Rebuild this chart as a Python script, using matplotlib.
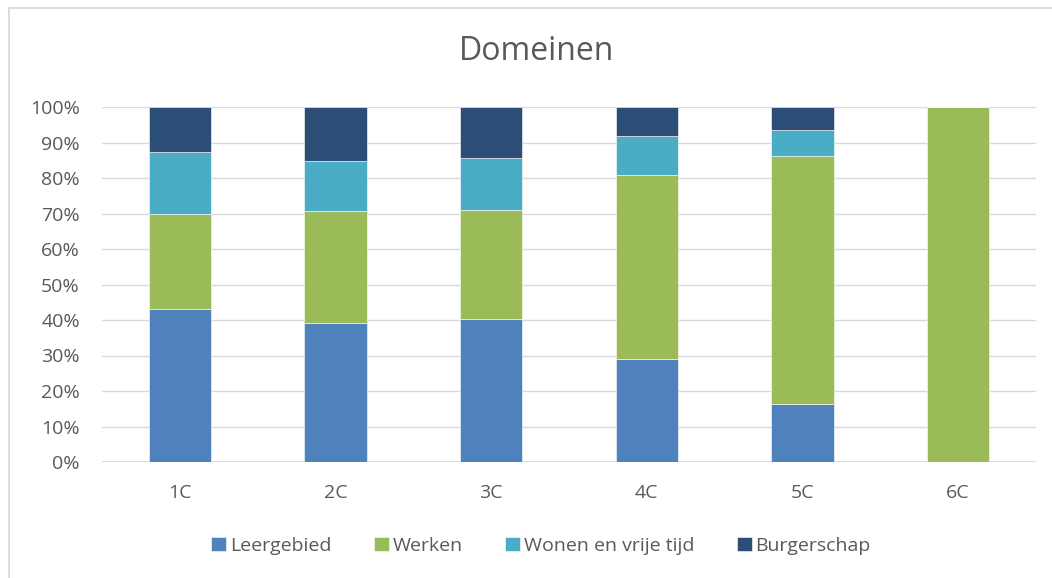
import numpy as np
import matplotlib.pyplot as plt
from matplotlib.patches import Rectangle

plt.rcParams['font.family'] = ['Open Sans', 'DejaVu Sans']

klassen = ["1C", "2C", "3C", "4C", "5C", "6C"]
leergebied = [43.1, 39.2, 40.3, 29.0, 16.3, 0.0]
werken = [26.8, 31.5, 30.8, 51.8, 70.0, 100.0]
wonen = [17.3, 14.1, 14.5, 11.1, 7.3, 0.0]
burgerschap = [12.8, 15.2, 14.4, 8.1, 6.4, 0.0]

series = [
    ("Leergebied", leergebied, "#4F81BD"),
    ("Werken", werken, "#9BBB59"),
    ("Wonen en vrije tijd", wonen, "#4BACC6"),
    ("Burgerschap", burgerschap, "#2C4D75"),
]

W, H = 1052, 578
fig = plt.figure(figsize=(W / 100, H / 100), dpi=100)
ax = fig.add_axes([102 / W, 1 - 462 / H, (1036 - 102) / W, (462 - 107) / H])

# chart border (cropped screenshot, only left and top visible)
fig.patches.append(Rectangle((8.5 / W, -0.1), 1.2, 1 - 8.5 / H + 0.1,
                             transform=fig.transFigure, fill=False,
                             edgecolor="#D9D9D9", linewidth=1.3))

x = np.arange(len(klassen))
bottom = np.zeros(len(klassen))
for naam, vals, kleur in series:
    vals = np.array(vals) / 100
    ax.bar(x, vals, 0.4, bottom=bottom, color=kleur, label=naam,
           edgecolor="white", linewidth=0.4, zorder=3)
    bottom += vals

ax.set_xlim(-0.5, len(klassen) - 0.5)
ax.set_ylim(0, 1)
ax.set_yticks(np.arange(0, 1.01, 0.1))
ax.set_yticklabels([f"{int(round(v * 100))}%" for v in np.arange(0, 1.01, 0.1)])
ax.set_xticks(x)
ax.set_xticklabels(klassen)
ax.tick_params(length=0, labelsize=14, labelcolor="#595959")
ax.tick_params(axis="y", pad=16)
ax.tick_params(axis="x", pad=16)
ax.yaxis.grid(True, color="#D9D9D9", linewidth=1.0, zorder=0)
for s in ax.spines.values():
    s.set_visible(False)
ax.axhline(0, color="#D9D9D9", linewidth=1.3, zorder=2)

fig.text(537 / W, 1 - 52 / H, "Domeinen", ha="center", va="center",
         fontsize=23, color="#595959")

fig.legend(loc="center", bbox_to_anchor=(541 / W, 1 - 546 / H), ncol=4,
           frameon=False, fontsize=14, labelcolor="#595959",
           handlelength=0.75, handleheight=0.75, handletextpad=0.2,
           columnspacing=2.2)

fig.savefig("out.png", dpi=100)
